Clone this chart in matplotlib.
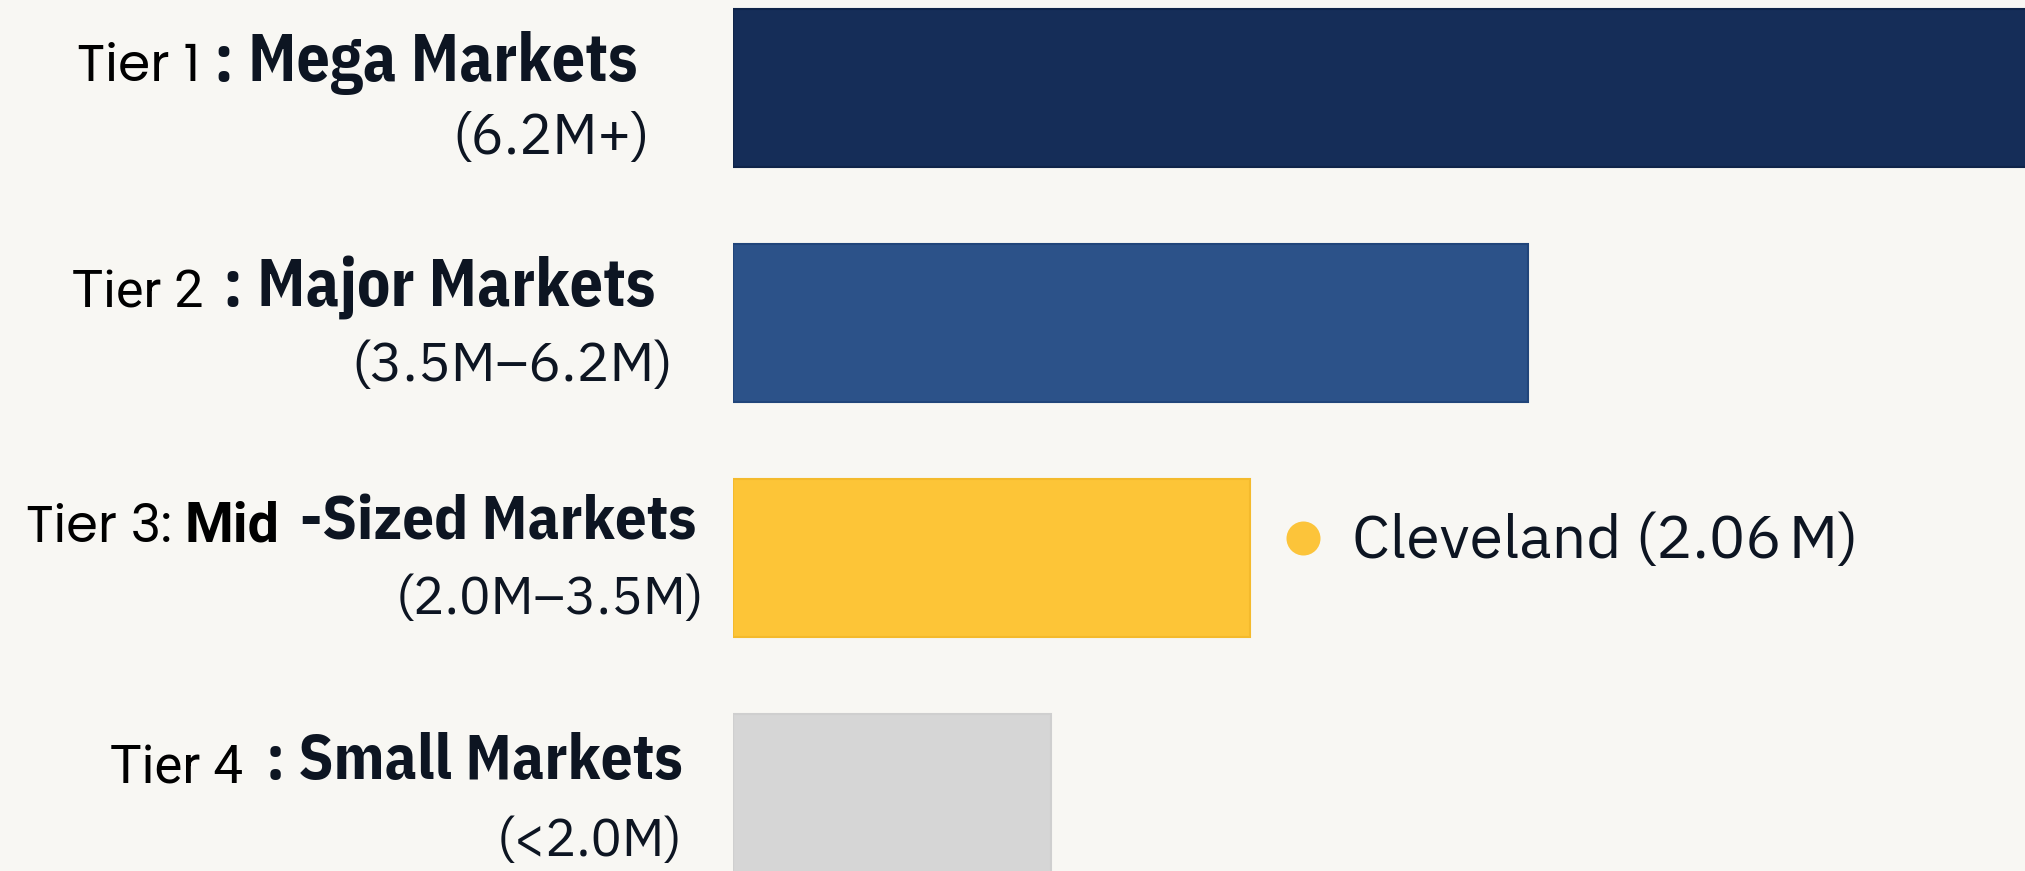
import matplotlib
matplotlib.use("Agg")
import matplotlib.pyplot as plt
from matplotlib import font_manager as fm
import matplotlib.transforms as mtransforms

# ---------------- data ----------------
tier_labels = ["Tier 1", "Tier 2", "Tier 3:", "Tier 4"]
tier_bold_prefix = ["", "", "Mid", ""]
tier_names = [": Mega Markets", ": Major Markets", "-Sized Markets", ": Small Markets"]
tier_ranges = ["(6.2M+)", "(3.5M\u20136.2M)", "(2.0M\u20133.5M)", "(<2.0M)"]
bar_values = [8.5, 5.0, 3.25, 2.0]          # relative bar lengths (tier 1 runs off the edge)
bar_colors = ["#152d58", "#2c5289", "#fdc537", "#d6d6d6"]
edge_colors = ["#0f2449", "#21457a", "#f4ba2c", "#cfcfcf"]
highlight_tier = 2
highlight_label = "Cleveland (2.06\u2009M)"

# ---------------- fonts ----------------
entries = set((f.name, int(f.weight) if str(f.weight).isdigit() else f.weight) for f in fm.fontManager.ttflist)
names_avail = set(e[0] for e in entries)
def pick(names, weight=None):
    for n in names:
        if weight is None and n in names_avail:
            return n
        if weight is not None and (n, weight) in entries:
            return n
    return "DejaVu Sans"
PLEX = pick(["IBM Plex Sans", "Roboto", "Noto Sans"])
PLEX_B = pick(["IBM Plex Sans Condensed", "IBM Plex Sans", "Roboto Condensed", "Roboto"], 700)
POP = pick(["Poppins", "Lato", "Inter"])
ROB = pick(["Roboto", "Inter", "Lato"])

W, H = 2025, 871
BG = "#f8f7f3"
fig = plt.figure(figsize=(W / 100, H / 100), dpi=100, facecolor=BG)

# ---------------- bars ----------------
ax = fig.add_axes([733 / W, 0, 1 - 733 / W, 1])
ax.set_facecolor(BG)
ypos = list(range(len(bar_values)))
ax.barh(ypos, bar_values, height=0.672, color=bar_colors, edgecolor=edge_colors, linewidth=1.5)
ax.set_xlim(0, (W - 733) / 159)
ax.set_ylim(3.332, -0.3745)
ax.axis("off")

# highlight marker next to tier 3 bar
px2pt = 72 / 100
dot_tr = mtransforms.offset_copy(ax.transData, fig=fig, x=53 * px2pt, y=20 * px2pt, units="points")
ax.plot([bar_values[highlight_tier]], [highlight_tier], marker="o", markersize=34 * px2pt,
        color="#fcc43a", markeredgewidth=0, transform=dot_tr, clip_on=False)

fig.canvas.draw()
renderer = fig.canvas.get_renderer()

def place(s, x0, x1, ybase, family, weight, color):
    t = fig.text(x0 / W, 1 - ybase / H, s, family=family, weight=weight, fontsize=40,
                 va="baseline", ha="left", color=color)
    bb = t.get_window_extent(renderer)
    t.set_fontsize(40 * (x1 - x0) / bb.width)
    return t

# label layout (pixel positions: left, right, baseline)
tier_pos = [(77, 200, 81), (72, 203, 307), (26, 172, 542), (110, 243, 783)]
prefix_pos = [None, None, (184, 279, 542), None]
name_pos = [(214, 637, 81), (223, 655, 306), (300, 697, 539), (266, 682, 779)]
range_pos = [(452, 650, 154), (351, 672, 381), (396, 704, 614), (497, 683, 856)]
tier_fonts = [POP, ROB, POP, ROB]

DARK = "#0d1522"
for i in range(len(tier_labels)):
    x0, x1, yb = tier_pos[i]
    place(tier_labels[i], x0, x1, yb, tier_fonts[i], "normal", "black")
    if tier_bold_prefix[i]:
        x0, x1, yb = prefix_pos[i]
        place(tier_bold_prefix[i], x0, x1, yb, ROB, "bold", "black")
    x0, x1, yb = name_pos[i]
    place(tier_names[i], x0, x1, yb, PLEX_B, "bold", DARK)
    x0, x1, yb = range_pos[i]
    place(tier_ranges[i], x0, x1, yb, PLEX, "normal", DARK)

# highlight text
bar_end_px = ax.transData.transform((bar_values[highlight_tier], highlight_tier))
x_start = bar_end_px[0] + 102
place(highlight_label, x_start, x_start + 507, 558, PLEX, "normal", DARK)

fig.savefig("out.png", dpi=100, facecolor=BG)
